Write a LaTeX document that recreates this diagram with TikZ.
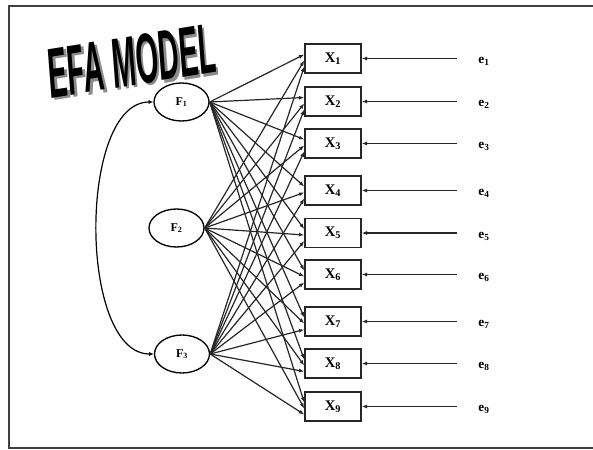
\documentclass[tikz,border=0pt]{standalone}
\usepackage{fontspec}
\setmainfont{Liberation Serif}
\newfontfamily\titlefont{Liberation Sans}
\usetikzlibrary{arrows.meta,shapes.geometric}
\begin{document}
\begin{tikzpicture}[x=0.75pt,y=-0.75pt,
  factor/.style={draw, ellipse, minimum width=41.25pt, minimum height=28.5pt, inner sep=0pt, line width=1pt, font=\bfseries\fontsize{9}{10}\selectfont},
  obs/.style={draw, rectangle, minimum width=42pt, minimum height=21.75pt, inner sep=0pt, line width=1.1pt, draw=black!85, font=\bfseries\fontsize{11}{12}\selectfont},
  err/.style={inner sep=0pt, font=\bfseries\fontsize{10}{11}\selectfont},
  conn/.style={-{Latex[length=4pt,width=3pt]}, line width=0.9pt, draw=black!85},
  corr/.style={{Latex[length=3.5pt,width=3pt]}-{Latex[length=3.5pt,width=3pt]}, line width=0.9pt},
  titletext/.style={rotate=9, inner sep=0pt, font=\titlefont\bfseries\itshape\fontsize{53}{53}\selectfont}
]
\useasboundingbox (0,0) rectangle (593,450);
% frame
\draw[line width=1.5pt, black!75] (593,6) -- (9,6) -- (9,448) -- (593,448);
% title with shadow
\node[titletext, text=black!50, opacity=0.9] (titleshadow) at (134,63.5) {\scalebox{0.41}[1]{EFA MODEL}};
\node[titletext, text=black] (title) at (131.5,61) {\scalebox{0.41}[1]{EFA MODEL}};
% factors
\node[factor] (F1) at (181.5,102) {F\textsubscript{1}};
\node[factor] (F2) at (176.5,228) {F\textsubscript{2}};
\node[factor] (F3) at (182,354) {F\textsubscript{3}};
% observed variables and errors
\foreach \i/\y in {1/58.5,2/101.5,3/143.5,4/190.5,5/233,6/274.5,7/321.5,8/363.5,9/406.5}{
  \node[obs] (X\i) at (333,\y) {X\textsubscript{\i}};
  \node[err] (e\i) at (484,\y+3) {e\textsubscript{\i}};
  \draw[conn, shorten <=16pt] (e\i.west |- X\i.east) -- (X\i.east);
}
% loadings
\foreach \i in {1,...,9}{
  \draw[conn] (F1.east) -- ([yshift=3pt]X\i.west);
  \draw[conn] (F2.east) -- ([yshift=-1.5pt]X\i.west);
  \draw[conn] (F3.east) -- ([yshift=-6pt]X\i.west);
}
% factor correlation
\draw[corr] (F1.west) .. controls (78,102) and (78,354) .. (F3.west);
\end{tikzpicture}
\end{document}
